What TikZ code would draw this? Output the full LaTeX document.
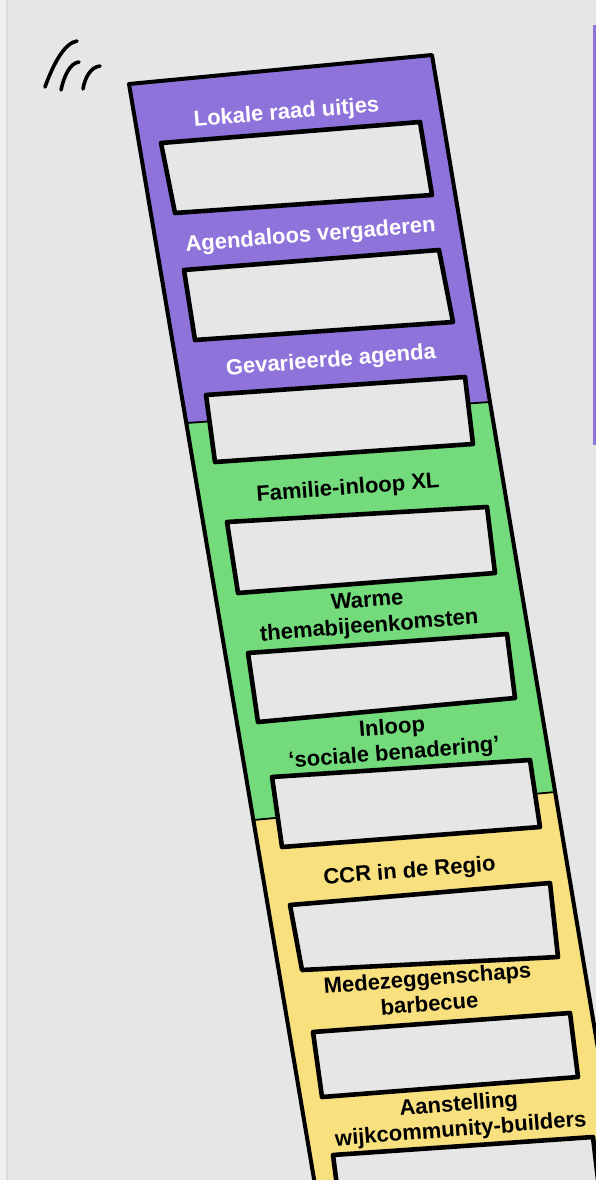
\documentclass[tikz,border=0pt]{standalone}
\usepackage{fontspec}
\setmainfont{Liberation Sans}
\usepackage{tikz}
\usetikzlibrary{backgrounds}

\definecolor{paper}{HTML}{E6E6E6}
\definecolor{lila}{HTML}{8E73DB}
\definecolor{groen}{HTML}{73DB7C}
\definecolor{geel}{HTML}{F9E07F}
\newcommand{\rs}{\rule[-5pt]{0pt}{21pt}}

\begin{document}
\begin{tikzpicture}[
    x=1pt, y=-1pt,
    rung/.style={draw=black, fill=paper, line width=4.6pt, line join=round},
    rail/.style={line width=4pt, line join=round, line cap=round},
    seam/.style={line width=1.8pt},
    swoosh/.style={line width=3.6pt, line cap=round},
    lbl/.style={font=\fontsize{22}{25.5}\selectfont\bfseries, align=center,
        inner sep=0pt, rotate=4.5},
]
\useasboundingbox (0,0) rectangle (596,1180);
\fill[paper] (0,0) rectangle (596,1180);
\fill[white!45!paper] (0,0) rectangle (6,1180);
\draw[black!14, line width=1.5pt] (7,0) -- (7,1180);
\fill[lila] (593,25) rectangle (596,445);

% little motion strokes
\draw[swoosh] (45,87) .. controls (54,62) and (65,43) .. (77,41);
\draw[swoosh] (61,90) .. controls (64,76) and (70,63) .. (79,62);
\draw[swoosh] (83,89) .. controls (85,77) and (91,67) .. (100,66);

\begin{scope}
\clip (0,0) rectangle (596,1180);
% ladder body
\fill[lila] (129,84) -- (432,55) -- (490,402) -- (186.3,423) -- cycle;
\fill[groen] (186.3,423) -- (490,402) -- (555,792) -- (253.4,820) -- cycle;
\fill[geel] (253.4,820) -- (555,792) -- (631.6,1250) -- (326,1250) -- cycle;
\draw[seam] (186.3,423) -- (490,402);
\draw[seam] (253.4,820) -- (555,792);
\draw[rail] (326,1250) -- (129,84) -- (432,55) -- (631.6,1250);

% rungs
\draw[rung] (161,143) -- (420,122) -- (432,195) -- (175,213) -- cycle;
\draw[rung] (184,270) -- (439,250) -- (453,322) -- (195,340) -- cycle;
\draw[rung] (206,395) -- (465,377) -- (473,444) -- (215,462) -- cycle;
\draw[rung] (227,522) -- (487,507) -- (495,573) -- (238,593) -- cycle;
\draw[rung] (248,653) -- (507,634) -- (515,698) -- (258,722) -- cycle;
\draw[rung] (272,777) -- (530,760) -- (540,827) -- (282,847) -- cycle;
\draw[rung] (290,905) -- (550,883) -- (558,957) -- (302,970) -- cycle;
\draw[rung] (313,1032) -- (570,1013) -- (578,1077) -- (322,1097) -- cycle;
\draw[rung] (333,1155) -- (593,1137) -- (601,1205) -- (342,1225) -- cycle;
\end{scope}

% labels
\node[lbl, white] (l1) at (286.6,113.5) {\rs Lokale raad uitjes};
\node[lbl, white] (l2) at (310.6,236) {\rs Agendaloos vergaderen};
\node[lbl, white] (l3) at (331,361.5) {\rs Gevarieerde agenda};
\node[lbl] (l4) at (348,489) {\rs Familie-inloop XL};
\node[lbl] (l5) at (368.3,614.3) {\rs Warme\\\rs themabijeenkomsten};
\node[lbl] (l6) at (393.1,741.5) {\rs Inloop\\\rs ‘sociale benadering’};
\node[lbl] (l7) at (409.6,872) {\rs CCR in de Regio};
\node[lbl] (l8) at (428.6,993) {\rs Medezeggenschaps\\\rs barbecue};
\node[lbl] (l9) at (459.8,1118) {\rs Aanstelling\\\rs wijkcommunity-builders};
\end{tikzpicture}
\end{document}
